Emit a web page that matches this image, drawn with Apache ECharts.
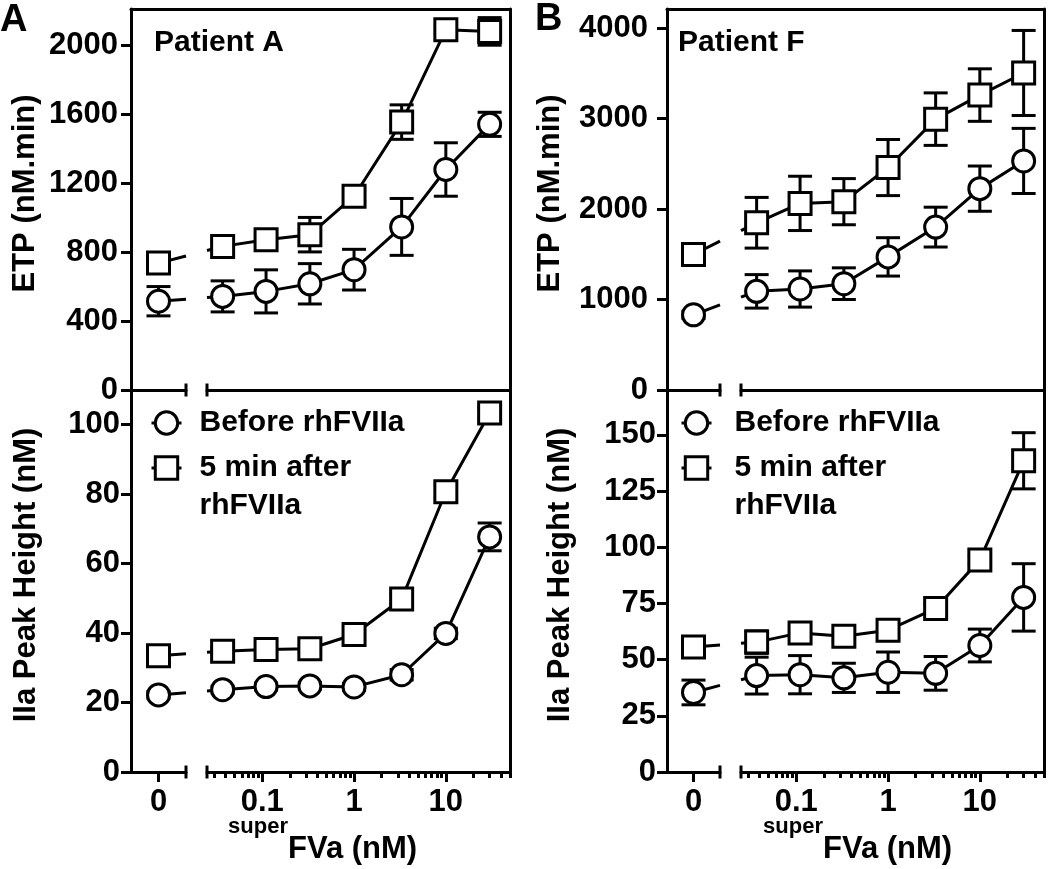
<!DOCTYPE html>
<html><head><meta charset="utf-8">
<script src="https://cdn.jsdelivr.net/npm/echarts@6/dist/echarts.min.js"></script>
<style>html,body{margin:0;padding:0;background:#fff}#c{width:1050px;height:869px}</style>
</head><body><div id="c"></div>
<script>
// ---------------- data ----------------
const conc = [0, 0.037, 0.11, 0.33, 1, 3.3, 10, 30];           // superFVa (nM); first point sits on the "0" segment
const seriesNames = ['Before rhFVIIa', '5 min after\nrhFVIIa'];

// Patient A
const etpA_before    = [515, 543, 572, 616, 698, 946, 1279, 1541];
const etpA_beforeErr = [85, 90, 125, 117, 118, 165, 155, 70];
const etpA_after     = [736, 833, 872, 901, 1124, 1554, 2090, 2080];
const etpA_afterErr  = [40, 30, 30, 100, 30, 100, 20, 80];
const peakA_before    = [22.2, 23.7, 24.6, 24.8, 24.5, 28.0, 39.9, 67.7];
const peakA_beforeErr = [1, 1, 1, 1, 1, 1.5, 1.5, 4];
const peakA_after     = [33.5, 34.8, 35.3, 35.5, 39.6, 49.8, 80.7, 103.4];
const peakA_afterErr  = [1, 1, 1, 1, 1, 1.5, 2, 1.5];

// Patient F
const etpF_before    = [831, 1090, 1116, 1175, 1471, 1800, 2225, 2531];
const etpF_beforeErr = [40, 185, 200, 175, 212, 220, 250, 360];
const etpF_after     = [1497, 1848, 2062, 2081, 2458, 2993, 3259, 3503];
const etpF_afterErr  = [60, 280, 300, 255, 310, 290, 290, 470];
const peakF_before    = [35.4, 42.9, 43.3, 41.9, 44.4, 43.9, 56.3, 77.7];
const peakF_beforeErr = [5.5, 8.2, 8.5, 6.5, 9, 7.5, 7.3, 15];
const peakF_after     = [55.6, 57.8, 61.9, 60.4, 63.1, 72.8, 94.4, 138.5];
const peakF_afterErr  = [2, 5, 2, 2, 2, 2, 2, 12.5];

// axis ranges and ticks
const etpA_range = [0, 2210];
const peakA_range = [0, 110];
const etpF_range = [0, 4210];
const peakF_range = [0, 170];
const etpA_ticks = [0, 400, 800, 1200, 1600, 2000];
const peakA_ticks = [0, 20, 40, 60, 80, 100];
const etpF_ticks = [0, 1000, 2000, 3000, 4000];
const peakF_ticks = [0, 25, 50, 75, 100, 125, 150];
const xZeroRange = [-1, 1];
const xLogRange = [0.025, 50];
const xZeroTicks = [0];
const xMajorTicks = [0.1, 1, 10];
const xMinorTicks = [0.03, 0.04, 0.05, 0.06, 0.07, 0.08, 0.09,
                     0.2, 0.3, 0.4, 0.5, 0.6, 0.7, 0.8, 0.9,
                     2, 3, 4, 5, 6, 7, 8, 9, 20, 30, 40, 50];

// ---------------- chart ----------------
const FONT = "'Liberation Sans', Arial, Helvetica, sans-serif";
const FS = 31;
const chart = echarts.init(document.getElementById('c'), null, {renderer: 'canvas'});
const LS = {color: '#000', width: 3};
const grids = [], xAxes = [], yAxes = [], series = [], legends = [], graphics = [];

function errSeries(xi, yi, xs, ys, es) {
  return {
    type: 'custom', xAxisIndex: xi, yAxisIndex: yi, z: 2, silent: true,
    data: xs.map((x, i) => [x, ys[i], es[i]]),
    renderItem: function (params, api) {
      const x = api.value(0), y = api.value(1), e = api.value(2);
      const hi = api.coord([x, y + e]), lo = api.coord([x, y - e]);
      const hw = 12;
      const st = {stroke: '#000', lineWidth: 3};
      return {type: 'group', children: [
        {type: 'line', shape: {x1: hi[0], y1: hi[1], x2: lo[0], y2: lo[1]}, style: st},
        {type: 'line', shape: {x1: hi[0] - hw, y1: hi[1], x2: hi[0] + hw, y2: hi[1]}, style: st},
        {type: 'line', shape: {x1: lo[0] - hw, y1: lo[1], x2: lo[0] + hw, y2: lo[1]}, style: st}
      ]};
    }
  };
}

function addPanel(p) {
  const gZero = grids.length;
  grids.push({left: p.L0, top: p.top, width: p.R0 - p.L0, height: p.height, outerBoundsMode: 'none'});
  const gLog = grids.length;
  grids.push({left: p.L1, top: p.top, width: p.R1 - p.L1, height: p.height, outerBoundsMode: 'none'});
  const tickStyle = {color: '#000', width: 3};
  const xlab = {color: '#000', fontSize: FS, fontWeight: 'bold', fontFamily: FONT, margin: 15};

  const xZero = xAxes.length;
  xAxes.push({type: 'value', gridIndex: gZero, min: xZeroRange[0], max: xZeroRange[1], position: 'bottom',
    axisLine: {show: true, onZero: false, lineStyle: LS, symbol: ['none', 'rect'], symbolSize: [13, 3]},
    axisTick: {show: p.bottom, length: 10, customValues: xZeroTicks, lineStyle: tickStyle},
    axisLabel: Object.assign({show: p.bottom, customValues: xZeroTicks, formatter: v => String(v)}, xlab),
    splitLine: {show: false}});
  const xLog = xAxes.length;
  xAxes.push({type: 'log', logBase: 10, gridIndex: gLog, min: xLogRange[0], max: xLogRange[1], position: 'bottom',
    axisLine: {show: true, onZero: false, lineStyle: LS, symbol: ['rect', 'none'], symbolSize: [13, 3]},
    axisTick: {show: p.bottom, length: 10, customValues: xMajorTicks, lineStyle: tickStyle},
    axisLabel: Object.assign({show: p.bottom, customValues: xMajorTicks, formatter: v => String(+(+v).toPrecision(3))}, xlab),
    splitLine: {show: false}, minorTick: {show: false}});
  if (p.bottom) {
    xAxes.push({type: 'log', logBase: 10, gridIndex: gLog, min: xLogRange[0], max: xLogRange[1], position: 'bottom',
      axisLine: {show: false, onZero: false},
      axisTick: {show: true, length: 6, customValues: xMinorTicks, lineStyle: tickStyle},
      axisLabel: {show: false}, splitLine: {show: false}});
  }

  const yZero = yAxes.length;
  yAxes.push({type: 'value', gridIndex: gZero, min: p.range[0], max: p.range[1], position: 'left',
    axisLine: {show: true, onZero: false, lineStyle: LS},
    axisTick: {show: true, length: 10, customValues: p.ticks, lineStyle: tickStyle},
    axisLabel: {customValues: p.ticks, margin: p.labelMargin, color: '#000', fontSize: FS, fontWeight: 'bold', fontFamily: FONT,
      formatter: v => String(v)},
    splitLine: {show: false},
    name: p.name, nameLocation: 'middle', nameGap: p.nameGap, nameRotate: 90,
    nameTextStyle: {color: '#000', fontSize: FS, fontWeight: 'bold', fontFamily: FONT, padding: [0, 0, 0, 12]}});
  const yLog = yAxes.length;
  yAxes.push({type: 'value', gridIndex: gLog, min: p.range[0], max: p.range[1], position: 'right',
    axisLine: {show: true, onZero: false, lineStyle: LS},
    axisTick: {show: false}, axisLabel: {show: false}, splitLine: {show: false}});

  if (!p.bottom) {
    const gF = grids.length;
    grids.push({left: p.L0, top: p.top, width: p.R1 - p.L0, height: p.height, outerBoundsMode: 'none'});
    xAxes.push({type: 'value', gridIndex: gF, min: 0, max: 1, position: 'top',
      axisLine: {show: true, onZero: false, lineStyle: LS}, axisTick: {show: false}, axisLabel: {show: false}, splitLine: {show: false}});
    yAxes.push({type: 'value', gridIndex: gF, show: false});
  }

  const groups = [
    {name: seriesNames[0], symbol: 'circle', vals: p.before, errs: p.beforeErr},
    {name: seriesNames[1], symbol: 'rect', vals: p.after, errs: p.afterErr}
  ];
  const sym = {color: '#fff', borderColor: '#000', borderWidth: 3, opacity: 1};
  groups.forEach(g => {
    series.push(errSeries(xZero, yZero, conc.slice(0, 1), g.vals.slice(0, 1), g.errs.slice(0, 1)));
    series.push(errSeries(xLog, yLog, conc.slice(1), g.vals.slice(1), g.errs.slice(1)));
    const lineIdx = series.length;
    series.push({type: 'line', name: g.name, xAxisIndex: xLog, yAxisIndex: yLog, z: 4, silent: true,
      data: conc.slice(1).map((x, i) => [x, g.vals[i + 1]]),
      symbol: g.symbol, symbolSize: 22, showSymbol: true, showAllSymbol: true,
      itemStyle: sym, lineStyle: {color: '#000', width: 3}});
    series.push({type: 'scatter', xAxisIndex: xZero, yAxisIndex: yZero, z: 4, silent: true,
      data: [[conc[0], g.vals[0]]], symbol: g.symbol, symbolSize: 22, itemStyle: sym});
    series.push({type: 'custom', xAxisIndex: xZero, yAxisIndex: yZero, z: 2, silent: true,
      data: [[conc[0], g.vals[0], conc[1], g.vals[1]]],
      renderItem: function (params, api) {
        const p0 = api.coord([api.value(0), api.value(1)]);
        const p1 = chart.convertToPixel({seriesIndex: lineIdx}, [api.value(2), api.value(3)]);
        const xL = chart.convertToPixel({xAxisIndex: xLog}, xLogRange[0]);
        if (!p1 || xL == null) return null;
        const xR = params.coordSys.x + params.coordSys.width;
        const at = x => p0[1] + (x - p0[0]) / (p1[0] - p0[0]) * (p1[1] - p0[1]);
        const st = {stroke: '#000', lineWidth: 3};
        return {type: 'group', children: [
          {type: 'line', shape: {x1: p0[0], y1: p0[1], x2: xR, y2: at(xR)}, style: st},
          {type: 'line', shape: {x1: xL, y1: at(xL), x2: p1[0], y2: p1[1]}, style: st}
        ]};
      }});
  });
}

const colA = {L0: 131, R0: 186, L1: 207, R1: 510};
const colB = {L0: 667, R0: 720, L1: 741, R1: 1044};
const rowTop = {top: 9, height: 381};
const rowBot = {top: 390, height: 382};

addPanel(Object.assign({}, colA, rowTop, {bottom: false, range: etpA_range, ticks: etpA_ticks, labelMargin: 13,
  name: 'ETP (nM.min)', nameGap: 90, before: etpA_before, beforeErr: etpA_beforeErr, after: etpA_after, afterErr: etpA_afterErr}));
addPanel(Object.assign({}, colA, rowBot, {bottom: true, range: peakA_range, ticks: peakA_ticks, labelMargin: 11,
  name: 'IIa Peak Height (nM)', nameGap: 89, before: peakA_before, beforeErr: peakA_beforeErr, after: peakA_after, afterErr: peakA_afterErr}));
addPanel(Object.assign({}, colB, rowTop, {bottom: false, range: etpF_range, ticks: etpF_ticks, labelMargin: 19,
  name: 'ETP (nM.min)', nameGap: 101, before: etpF_before, beforeErr: etpF_beforeErr, after: etpF_after, afterErr: etpF_afterErr}));
addPanel(Object.assign({}, colB, rowBot, {bottom: true, range: peakF_range, ticks: peakF_ticks, labelMargin: 11,
  name: 'IIa Peak Height (nM)', nameGap: 91, before: peakF_before, beforeErr: peakF_beforeErr, after: peakF_after, afterErr: peakF_afterErr}));

function addLegends(left, padLeft) {
  const common = {orient: 'horizontal', padding: 0, itemWidth: 30, itemHeight: 28, selectedMode: false,
    itemStyle: {borderWidth: 3, borderColor: '#000', color: '#fff'}, lineStyle: {width: 3, color: '#000'}};
  const ts = {fontSize: 30, fontWeight: 'bold', fontFamily: FONT, color: '#000', lineHeight: 38, padding: [0, 0, 0, padLeft]};
  legends.push(Object.assign({}, common, {left: left, top: 404, data: [seriesNames[0]], textStyle: ts}));
  // leading empty line keeps the icon level with the first text line
  legends.push(Object.assign({}, common, {left: left, top: 411, data: [seriesNames[1]], textStyle: ts,
    formatter: name => '\n' + name}));
}
addLegends(150, 13);
addLegends(680, 18);

function txt(x, y, text, size, align) {
  graphics.push({type: 'text', x: x, y: y, silent: true,
    style: {text: text, font: 'bold ' + size + 'px ' + FONT, fill: '#000', align: align || 'left', verticalAlign: 'middle'}});
}
txt(0, 21, 'A', 38);
txt(535, 20, 'B', 38);
txt(154, 43, 'Patient A', 30);
txt(678, 43, 'Patient F', 30);
txt(288, 827, 'super', 22, 'right');
txt(288, 849, 'FVa (nM)', 31, 'left');
txt(823, 827, 'super', 22, 'right');
txt(823, 849, 'FVa (nM)', 31, 'left');

chart.setOption({
  animation: false,
  backgroundColor: '#fff',
  grid: grids, xAxis: xAxes, yAxis: yAxes, series: series, legend: legends, graphic: graphics
});
</script>
</body></html>
